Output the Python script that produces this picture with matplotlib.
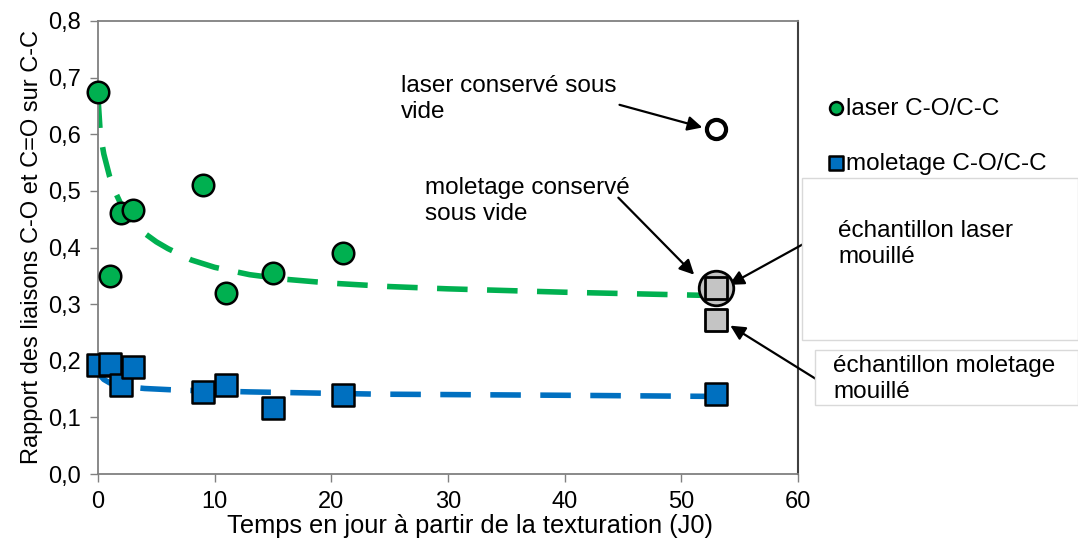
import matplotlib
matplotlib.use("Agg")
import matplotlib.pyplot as plt
from matplotlib.ticker import FuncFormatter
from matplotlib.patches import Rectangle

plt.rcParams['font.family'] = ['Liberation Sans', 'DejaVu Sans']

# Data
laser_x = [0, 1, 2, 3, 9, 11, 15, 21]
laser_y = [0.675, 0.350, 0.461, 0.466, 0.511, 0.320, 0.355, 0.390]
mol_x = [0, 1, 2, 3, 9, 11, 15, 21, 53]
mol_y = [0.193, 0.194, 0.157, 0.189, 0.145, 0.157, 0.117, 0.140, 0.141]

laser_vide_x, laser_vide_y = [53], [0.610]
mol_vide_x, mol_vide_y = [53], [0.329]
laser_mouille_x, laser_mouille_y = [53], [0.329]
mol_mouille_x, mol_mouille_y = [53], [0.272]

# trend lines
trend_laser_x = [0, 0.2, 0.5, 1, 1.5, 2, 3, 4, 5, 6, 8, 10, 13, 16, 20, 25, 30, 40, 53]
trend_laser_y = [0.665, 0.600, 0.565, 0.525, 0.497, 0.475, 0.445, 0.425, 0.410, 0.398, 0.378, 0.365, 0.352, 0.344, 0.337, 0.331, 0.327, 0.321, 0.315]
trend_mol_x = [0, 0.2, 0.5, 1, 2, 4, 7, 13, 24, 40, 53]
trend_mol_y = [0.185, 0.174, 0.167, 0.161, 0.155, 0.151, 0.148, 0.145, 0.141, 0.139, 0.137]

xticks = [0, 10, 20, 30, 40, 50, 60]
yticks = [0.0, 0.1, 0.2, 0.3, 0.4, 0.5, 0.6, 0.7, 0.8]

green = '#00b050'
blue = '#0070c0'
gray = '#808080'
light = '#c4c4c4'

fig = plt.figure(figsize=(10.78, 5.53), dpi=100)
ax = fig.add_axes([98/1078, 1-474/553, (798-98)/1078, (474-21)/553])

ax.plot(trend_laser_x, trend_laser_y, color=green, lw=4, dashes=(5.5, 3.5), zorder=2)
ax.plot(trend_mol_x, trend_mol_y, color=blue, lw=4, dashes=(5.5, 3.5), zorder=2)

ax.scatter(laser_x, laser_y, s=240, marker='o', facecolor=green, edgecolor='black', linewidth=1.8, zorder=4,
           label='laser C-O/C-C', clip_on=False)
ax.scatter(mol_x, mol_y, s=270, marker='s', facecolor=blue, edgecolor='black', linewidth=1.8, zorder=4,
           label='moletage C-O/C-C', clip_on=False)
ax.scatter(laser_vide_x, laser_vide_y, s=190, marker='o', facecolor='white', edgecolor='black', linewidth=3, zorder=5)
ax.scatter(laser_mouille_x, laser_mouille_y, s=620, marker='o', facecolor=light, edgecolor='black',
           linewidth=2, zorder=5)
ax.scatter(mol_vide_x, mol_vide_y, s=260, marker='s', facecolor=light, edgecolor='black',
           linewidth=2, zorder=6)
ax.scatter(mol_mouille_x, mol_mouille_y, s=260, marker='s', facecolor=light, edgecolor='black',
           linewidth=2, zorder=6)

ax.set_xlim(0, 60)
ax.set_ylim(0, 0.8)
ax.set_xticks(xticks)
ax.set_yticks(yticks)
ax.yaxis.set_major_formatter(FuncFormatter(lambda v, p: f"{v:.1f}".replace('.', ',')))
ax.tick_params(axis='both', direction='out', length=6, width=1, color=gray, labelsize=17, pad=6)
for s in ['left', 'bottom', 'top']:
    ax.spines[s].set_color(gray)
    ax.spines[s].set_linewidth(1.3)
ax.spines['right'].set_color('#404040')
ax.spines['right'].set_linewidth(1.5)

ax.set_xlabel('Temps en jour à partir de la texturation (J0)', fontsize=18.3)
ax.xaxis.set_label_coords((470-98)/700, -(514-474)/453)
ax.set_ylabel('Rapport des liaisons C-O et C=O sur C-C', fontsize=17, labelpad=4)

leg = fig.legend(handles=ax.collections[:2], loc='upper left', bbox_to_anchor=(812/1078, 1-88/553),
                 frameon=False, fontsize=17.5, handletextpad=-0.2, labelspacing=1.35, markerscale=0.6,
                 borderaxespad=0, handlelength=1.2)

# annotation boxes
fig.patches.append(Rectangle((802/1078, 1-340/553), 276/1078, 162/553, transform=fig.transFigure,
                             facecolor='white', edgecolor='#d9d9d9', lw=1, zorder=10))
fig.patches.append(Rectangle((815/1078, 1-405/553), 263/1078, 55/553, transform=fig.transFigure,
                             facecolor='white', edgecolor='#d9d9d9', lw=1, zorder=11))
fig.text(838/1078, 1-244/553, 'échantillon laser\nmouillé', fontsize=17.5, va='center', ha='left',
         linespacing=1.2, zorder=12)
fig.text(833/1078, 1-379/553, 'échantillon moletage\nmouillé', fontsize=17.5, va='center', ha='left',
         linespacing=1.2, zorder=12)

arrowprops = dict(arrowstyle='-|>', color='black', lw=1.6, mutation_scale=22, shrinkA=0, shrinkB=0)
ax.text(26.0, 0.662, 'laser conservé sous\nvide', fontsize=17.5, ha='left', va='center', linespacing=1.25)
ax.annotate('', xy=(51.8, 0.612), xytext=(44.7, 0.652), arrowprops=arrowprops)
ax.annotate('', xy=(51.1, 0.352), xytext=(44.6, 0.488), arrowprops=arrowprops)
ax.text(28.0, 0.482, 'moletage conservé\nsous vide', fontsize=17.5, ha='left', va='center', linespacing=1.25)
ax.annotate('', xy=(54.1, 0.334), xytext=(61.5, 0.418), arrowprops=arrowprops, annotation_clip=False)
ax.annotate('', xy=(54.2, 0.262), xytext=(62.3, 0.158), arrowprops=arrowprops, annotation_clip=False)

fig.savefig('out.png', dpi=100)
